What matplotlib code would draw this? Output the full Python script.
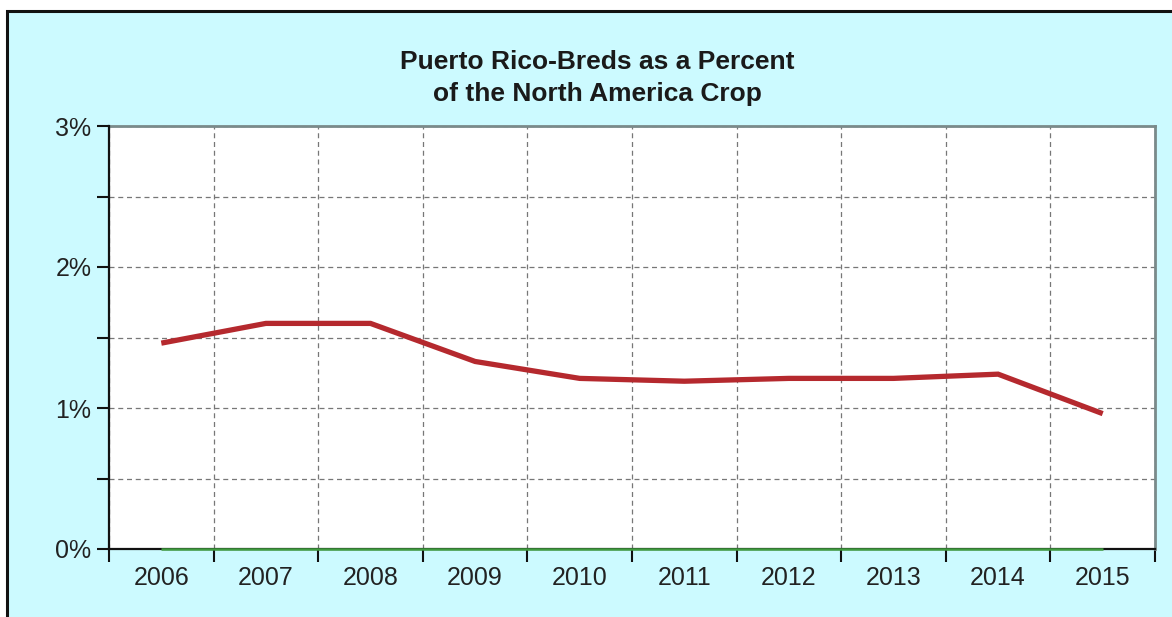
import matplotlib
matplotlib.use("Agg")
import matplotlib.pyplot as plt
import numpy as np
from matplotlib.patches import Rectangle
from matplotlib.ticker import FixedLocator, NullFormatter

years = ["2006", "2007", "2008", "2009", "2010", "2011", "2012", "2013", "2014", "2015"]
pr_pct = [1.46, 1.60, 1.60, 1.33, 1.21, 1.19, 1.21, 1.21, 1.24, 0.96]
zero_series = [0, 0, 0, 0, 0, 0, 0, 0, 0, 0]
y_ticks = [0, 1, 2, 3]
y_tick_labels = ["0%", "1%", "2%", "3%"]
title = "Puerto Rico-Breds as a Percent\nof the North America Crop"

plt.rcParams['font.family'] = ['Liberation Sans', 'DejaVu Sans']

W, H = 1172, 617
fig = plt.figure(figsize=(W / 100, H / 100), dpi=100, facecolor="white")

bg = Rectangle((7 / W, -0.01), 1.2, (H - 11) / H + 0.01, transform=fig.transFigure,
               facecolor="#CCFAFF", edgecolor="#111111", linewidth=2.2, zorder=-10)
fig.patches.append(bg)

ax = fig.add_axes([109 / W, 68 / H, (1155 - 109) / W, (549 - 126) / H])
ax.set_zorder(5)
ax.set_facecolor("white")

x = np.arange(len(years))
ax.plot(x, pr_pct, color="#B5292E", linewidth=3.8, zorder=4, solid_capstyle="butt",
        solid_joinstyle="miter")

ax.set_xlim(-0.5, len(years) - 0.5)
ax.set_ylim(0, 3)

# x ticks at category boundaries, labels at centres
ax.xaxis.set_major_locator(FixedLocator(np.arange(-0.5, len(years), 1.0)))
ax.xaxis.set_major_formatter(NullFormatter())
ax.xaxis.set_minor_locator(FixedLocator(x))
ax.set_xticklabels(years, minor=True)
ax.tick_params(axis="x", which="major", length=9.4, width=1.5, color="#111111", direction="out")
ax.tick_params(axis="x", which="minor", length=0, labelsize=18, pad=12, labelcolor="#222222")

yt = np.arange(0, 3.01, 0.5)
ax.set_yticks(yt)
ax.set_yticklabels([y_tick_labels[y_ticks.index(int(v))] if float(v).is_integer() else "" for v in yt])
ax.tick_params(axis="y", which="major", length=8.6, width=1.5, color="#111111",
               labelsize=18, pad=4, labelcolor="#222222")

ax.grid(True, which="major", color="#777777", linestyle=(0, (4, 3)), linewidth=0.9)
ax.set_axisbelow(True)

for s in ["left", "bottom"]:
    ax.spines[s].set_color("#111111")
    ax.spines[s].set_linewidth(1.6)
    ax.spines[s].set_zorder(3)
for s in ["top", "right"]:
    ax.spines[s].set_color("#7A8A8A")
    ax.spines[s].set_linewidth(2.0)

# green zero series drawn over the axis line
ax.plot(x, zero_series, color="#3F9A3F", linewidth=1.8, zorder=3.5, solid_capstyle="butt",
        clip_on=False)

fig.text(597 / W, 1 - 78 / H, title, ha="center", va="center", fontsize=19,
         fontweight="bold", color="#1A1A1A", linespacing=1.42)

fig.savefig("out.png", dpi=100, facecolor=fig.get_facecolor())
